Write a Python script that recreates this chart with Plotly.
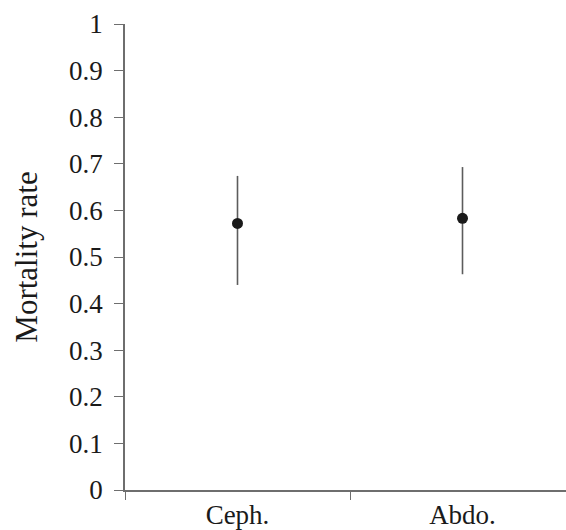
import plotly.graph_objects as go

# Mortality rate by site, with asymmetric interval limits
sites = ["Ceph.", "Abdo."]
mortality = [0.572, 0.583]
upper_limit = [0.674, 0.693]
lower_limit = [0.440, 0.463]

y_ticks = [0, 0.1, 0.2, 0.3, 0.4, 0.5, 0.6, 0.7, 0.8, 0.9, 1]
y_tick_text = ["0", "0.1", "0.2", "0.3", "0.4", "0.5", "0.6", "0.7", "0.8", "0.9", "1"]

err_plus = [u - m for u, m in zip(upper_limit, mortality)]
err_minus = [m - l for m, l in zip(mortality, lower_limit)]

SERIF = "Liberation Serif"
tick_font = dict(family=SERIF, size=27, color="#1a1a1a")
title_font = dict(family=SERIF, size=31, color="#1a1a1a")
axis_grey = "#6e6e6e"

fig = go.Figure(
    go.Scatter(
        x=sites,
        y=mortality,
        mode="markers",
        marker=dict(size=11, color="#1a1a1a"),
        error_y=dict(
            type="data",
            symmetric=False,
            array=err_plus,
            arrayminus=err_minus,
            width=0,
            thickness=1.6,
            color="#5c5c5c",
        ),
        showlegend=False,
    )
)

fig.update_layout(
    width=566,
    height=530,
    margin=dict(l=125, r=0, t=24, b=40),
    paper_bgcolor="white",
    plot_bgcolor="white",
    font=tick_font,
)

fig.update_xaxes(
    type="category",
    range=[-0.5, 1.46],
    showline=True,
    linecolor=axis_grey,
    linewidth=1.5,
    showgrid=False,
    zeroline=False,
    ticks="outside",
    tickson="boundaries",
    ticklen=8,
    tickcolor=axis_grey,
    tickwidth=1.2,
    tickfont=tick_font,
)

fig.update_yaxes(
    range=[0, 1],
    tickvals=y_ticks,
    ticktext=y_tick_text,
    showline=True,
    linecolor=axis_grey,
    linewidth=1.5,
    showgrid=False,
    zeroline=False,
    ticks="outside",
    ticklen=9,
    tickcolor=axis_grey,
    tickwidth=1.2,
    tickfont=tick_font,
    ticklabelstandoff=6,
    title=dict(text="Mortality rate", font=title_font, standoff=22),
)

fig.write_html("out.html")
